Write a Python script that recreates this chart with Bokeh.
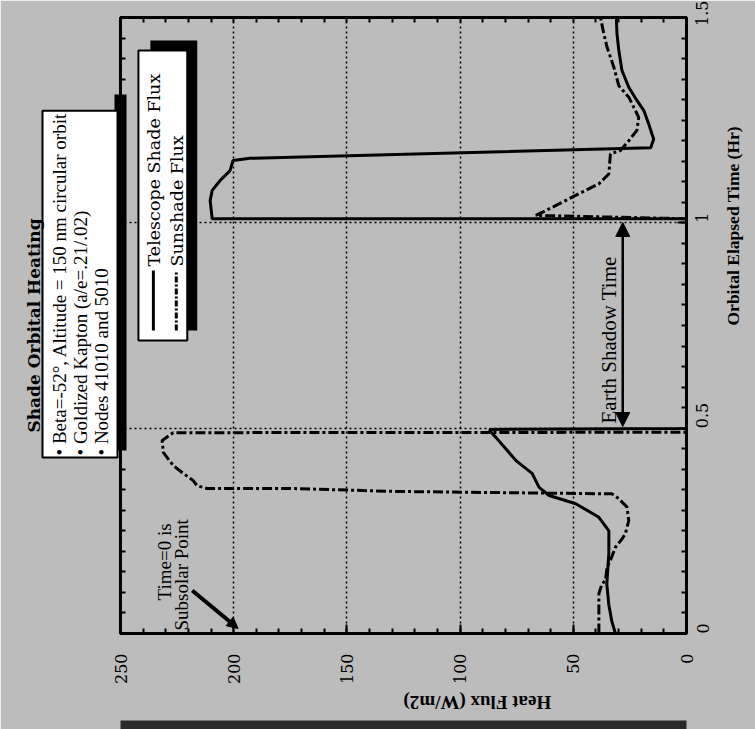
import math
from bokeh.plotting import figure
from bokeh.models import (Range1d, LinearAxis, SingleIntervalTicker, FixedTicker,
                          NumeralTickFormatter, Label, BoxAnnotation, Arrow, NormalHead,
                          ColumnDataSource, Title)
from bokeh.embed import file_html
from bokeh.resources import INLINE

# ---------------- data ----------------
shade_time = [0.0, 0.03, 0.07, 0.12, 0.195, 0.25, 0.283, 0.316, 0.336, 0.356, 0.39, 0.421,
              0.477, 0.49, 0.497, 0.499, 1.01, 1.01, 1.054, 1.079, 1.103, 1.127, 1.152,
              1.157, 1.183, 1.204, 1.217, 1.241, 1.274, 1.298, 1.33, 1.371, 1.42, 1.46, 1.5]
shade_flux = [31.4, 33.0, 34.3, 35.2, 34.3, 34.3, 38.7, 48.9, 60.7, 65.1, 68.2, 75.3,
              84.1, 86.3, 87.0, 0.0, 0.0, 209.5, 210.4, 209.5, 206.0, 201.6, 200.3,
              192.8, 15.8, 14.5, 15.3, 16.7, 18.9, 21.9, 25.5, 28.5, 29.9, 30.7, 31.0]

sun_time = [0.0, 0.097, 0.121, 0.129, 0.161, 0.178, 0.21, 0.23, 0.243, 0.275, 0.308, 0.328,
            0.34, 0.346, 0.353, 0.353, 0.36, 0.373, 0.392, 0.409, 0.441, 0.47, 0.489, 0.49,
            1.01, 1.018, 1.046, 1.071, 1.095, 1.119, 1.168, 1.176, 1.2, 1.225, 1.257, 1.306,
            1.334, 1.379, 1.428, 1.46, 1.5]
sun_flux = [38.7, 38.7, 37.3, 35.8, 35.1, 33.6, 31.4, 28.5, 27.0, 25.5, 26.3, 29.9,
            32.9, 129.0, 173.9, 211.8, 216.2, 218.0, 222.8, 226.7, 231.1, 231.6, 226.7, 0.0,
            0.0, 66.5, 56.3, 47.5, 38.7, 34.3, 33.6, 29.2, 25.5, 21.9, 21.1, 25.5,
            29.9, 32.1, 35.1, 36.5, 38.0]

flux_range = (250, 0)
time_range = (0, 1.5)
flux_tick_step = 50
flux_minor_step = 10
time_tick_step = 0.5
time_minor_step = 0.05

title_text = "Shade Orbital Heating"
flux_title = "Heat Flux (W/m2)"
time_title = "Orbital Elapsed Time (Hr)"
notes = ["\u2022 Beta=-52\u00b0, Altitude = 150 nm circular orbit",
         "\u2022 Goldized Kapton (a/e=.21/.02)",
         "\u2022 Nodes 41010 and 5010"]
legend_names = ["Telescope Shade Flux", "Sunshade Flux"]

# ---------------- layout helpers (page pixels -> data) ----------------
W, H = 755, 729
FRAME_L, FRAME_R, FRAME_T, FRAME_B = 120, 688, 17, 633   # page pixels


def dx(px):
    return flux_range[0] + (px - FRAME_L) * (flux_range[1] - flux_range[0]) / (FRAME_R - FRAME_L)


def dy(py):
    return time_range[0] + (FRAME_B - py) * (time_range[1] - time_range[0]) / (FRAME_B - FRAME_T)


GRAY = "#bcbcbc"
SERIF = "Liberation Serif"
WIDE = "DejaVu Serif"

p = figure(width=W, height=H, title=None,
           x_range=Range1d(*flux_range), y_range=Range1d(*time_range),
           output_backend="svg", toolbar_location=None,
           y_axis_location="right",
           min_border_left=FRAME_L, min_border_right=W - FRAME_R,
           min_border_top=FRAME_T, min_border_bottom=H - FRAME_B,
           background_fill_color=GRAY, border_fill_color=GRAY,
           outline_line_color="black", outline_line_width=3)


def try_set(obj, **kw):
    for k, v in kw.items():
        try:
            setattr(obj, k, v)
        except (AttributeError, ValueError):
            pass


def style_ticks(ax):
    ax.axis_line_width = 3
    ax.major_tick_in = 9
    ax.major_tick_out = 0
    ax.minor_tick_in = 5
    ax.minor_tick_out = 0
    ax.major_tick_line_width = 2
    ax.minor_tick_line_width = 2
    ax.major_label_text_color = "black"
    ax.axis_label_text_color = "black"


def blank_axis(line_width=0, color=None, bounds=None, size=0):
    """An axis with no ticks or labels: used as a spacer or as a thick bar."""
    ax = LinearAxis(ticker=FixedTicker(ticks=[], minor_ticks=[]))
    ax.major_tick_in = 0
    ax.major_tick_out = size
    ax.minor_tick_in = 0
    ax.minor_tick_out = 0
    if color is None or line_width == 0:
        ax.axis_line_color = None
    else:
        ax.axis_line_color = color
        ax.axis_line_width = line_width
        ax.axis_line_cap = "butt"
    if bounds is not None:
        ax.bounds = bounds
    return ax


xa = p.xaxis[0]
xa.ticker = SingleIntervalTicker(interval=flux_tick_step, num_minor_ticks=5)
style_ticks(xa)
xa.major_label_text_font = WIDE
xa.major_label_text_font_size = "16px"
xa.major_label_orientation = math.pi / 2
xa.major_label_standoff = 20
xa.axis_label = flux_title
xa.axis_label_text_font = SERIF
xa.axis_label_text_font_size = "19px"
xa.axis_label_text_font_style = "bold"
xa.axis_label_standoff = 15
try_set(xa, axis_label_orientation=math.pi)

ya = p.yaxis[0]
ya.ticker = SingleIntervalTicker(interval=time_tick_step, num_minor_ticks=10)
ya.formatter = NumeralTickFormatter(format="0.[0]")
style_ticks(ya)
ya.major_label_text_font = WIDE
ya.major_label_text_font_size = "16px"
ya.major_label_orientation = math.pi / 2
ya.major_label_standoff = 16
ya.axis_label = time_title
ya.axis_label_text_font = SERIF
ya.axis_label_text_font_size = "17.5px"
ya.axis_label_text_font_style = "bold"
ya.axis_label_standoff = 15
try_set(ya, axis_label_orientation=math.pi / 2)

# dark strip along the bottom of the page (below the axis title)
p.add_layout(blank_axis(size=11), "below")
p.add_layout(blank_axis(line_width=12, color="#2a2a2a"), "below")

# mirrored tick marks (no labels) on the top and left edges
n_fx = int(round(abs(flux_range[0] - flux_range[1]) / flux_minor_step))
n_ty = int(round((time_range[1] - time_range[0]) / time_minor_step))
top_ax = LinearAxis(ticker=FixedTicker(ticks=[], minor_ticks=[i * flux_minor_step for i in range(n_fx + 1)]))
style_ticks(top_ax)
p.add_layout(top_ax, "above")
left_ax = LinearAxis(ticker=FixedTicker(ticks=[], minor_ticks=[round(i * time_minor_step, 3) for i in range(n_ty + 1)]))
style_ticks(left_ax)
left_ax.major_tick_out = 6          # no major ticks: only reserves 6px
p.add_layout(left_ax, "left")

# drop shadow of the notes box (a thick bar beside it)
p.add_layout(blank_axis(line_width=12, color="black", bounds=(dy(450), dy(94))), "left")

# notes box and chart title, stacked on the left
notes_title = Title(text="\n".join(notes), align="left", offset=176, standoff=6,
                    text_font=SERIF, text_font_size="19px", text_font_style="normal",
                    text_color="black", background_fill_color="white",
                    border_line_color="black", border_line_width=2)
try_set(notes_title, padding=(2, 6))
p.add_layout(notes_title, "left")
main_title = Title(text=title_text, align="center", offset=-18, standoff=4,
                   text_font=WIDE, text_font_size="17px", text_font_style="bold",
                   text_color="black")
p.add_layout(main_title, "left")

for g in (p.xgrid[0], p.ygrid[0]):
    g.grid_line_color = "black"
    g.grid_line_dash = "2 3"
    g.grid_line_width = 1.5

# ---------------- curves ----------------
shade_src = ColumnDataSource(dict(flux=shade_flux, time=shade_time))
sun_src = ColumnDataSource(dict(flux=sun_flux, time=sun_time))
p.line(x="flux", y="time", source=sun_src, line_color="black", line_width=3,
       line_dash="10 3 3 3")
p.line(x="flux", y="time", source=shade_src, line_color="black", line_width=3)


# ---------------- legend box ----------------
def box(l, r, t, b, color, lw=0):
    p.add_layout(BoxAnnotation(left=dx(l), right=dx(r), top=dy(t), bottom=dy(b),
                               fill_color=color, fill_alpha=1.0,
                               line_color="black", line_width=lw, line_alpha=1.0 if lw else 0.0))


box(150, 197, 40, 330, "black")
box(138, 187, 50, 340, "white", 2)


def lab(px, py, text, size, font=SERIF, style="normal", angle=math.pi / 2,
        align="left", baseline="middle"):
    p.add_layout(Label(x=dx(px), y=dy(py), text=text, angle=angle,
                       text_align=align, text_baseline=baseline,
                       text_font=font, text_font_size=size, text_font_style=style,
                       text_color="black"))


r1 = p.line(x=[dx(153), dx(153)], y=[dy(330), dy(270)], line_color="black", line_width=3)
r2 = p.line(x=[dx(176), dx(176)], y=[dy(330), dy(270)], line_color="black", line_width=3,
            line_dash="6 2 2 2")
r1.level = "overlay"
r2.level = "overlay"
lab(154, 266, legend_names[0], "17.5px", font=WIDE)
lab(177, 266, legend_names[1], "17.5px", font=WIDE)

# Earth shadow annotation
p.add_layout(Arrow(start=NormalHead(size=14, fill_color="black", line_color="black"),
                   end=NormalHead(size=14, fill_color="black", line_color="black"),
                   x_start=dx(624), y_start=dy(426), x_end=dx(624), y_end=dy(222),
                   line_color="black", line_width=2.5))
lab(610, 423, "Earth Shadow Time", "21px")

# Time = 0 annotation
lab(164, 600, "Time=0 is", "19px")
lab(181, 630, "Subsolar Point", "19px")
p.add_layout(Arrow(end=NormalHead(size=11, fill_color="black", line_color="black"),
                   x_start=dx(192), y_start=dy(590), x_end=dx(238), y_end=dy(628),
                   line_color="black", line_width=4))

open("out.html", "w").write(file_html(p, INLINE))
